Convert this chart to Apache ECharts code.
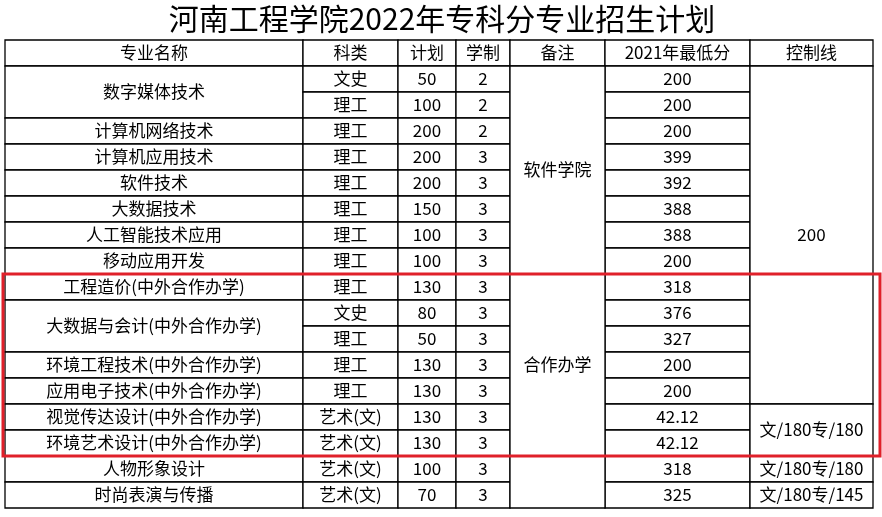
<!DOCTYPE html>
<html><head><meta charset="utf-8">
<script src="https://cdn.jsdelivr.net/npm/echarts@6/dist/echarts.min.js"></script>
<style>html,body{margin:0;padding:0;background:#fff}#c{width:882px;height:517px}</style>
</head><body><div id="c"></div>
<script>
const title = '河南工程学院2022年专科分专业招生计划';
const headers = ['专业名称','科类','计划','学制','备注','2021年最低分','控制线'];
const majors = ['数字媒体技术','数字媒体技术','计算机网络技术','计算机应用技术','软件技术','大数据技术','人工智能技术应用','移动应用开发','工程造价(中外合作办学)','大数据与会计(中外合作办学)','大数据与会计(中外合作办学)','环境工程技术(中外合作办学)','应用电子技术(中外合作办学)','视觉传达设计(中外合作办学)','环境艺术设计(中外合作办学)','人物形象设计','时尚表演与传播'];
const kinds = ['文史','理工','理工','理工','理工','理工','理工','理工','理工','文史','理工','理工','理工','艺术(文)','艺术(文)','艺术(文)','艺术(文)'];
const plans = [50,100,200,200,200,150,100,100,130,80,50,130,130,130,130,100,70];
const years = [2,2,2,3,3,3,3,3,3,3,3,3,3,3,3,3,3];
const minScores = ['200','200','200','399','392','388','388','200','318','376','327','200','200','42.12','42.12','318','325'];
const notes = [['软件学院',0,8],['合作办学',8,7],['',15,2]];
const controls = [['200',0,13],['文/180专/180',13,2],['文/180专/180',15,1],['文/180专/145',16,1]];

const colX = [5,303,398,456,510,605,750,873];
const top0 = 40, hdrH = 26, rowH = 26;
const font = '"Noto Sans CJK SC", sans-serif';
const els = [];
function cell(x0,x1,y0,y1,txt,opts){
  els.push({type:'rect',shape:{x:x0,y:y0,width:x1-x0,height:y1-y0},style:{fill:'#fff',stroke:'#000',lineWidth:1.3},z:1});
  if(txt!=='') els.push({type:'text',x:(x0+x1)/2,y:(y0+y1)/2,style:Object.assign({text:txt,fill:'#000',font:'17px '+font,align:'center',verticalAlign:'middle'},opts||{}),z:2});
}
els.push({type:'text',x:442,y:19,style:{text:title,fill:'#000',font:'30px '+font,align:'center',verticalAlign:'middle'}});
headers.forEach((h,i)=>cell(colX[i],colX[i+1],top0,top0+hdrH,h));
const y0 = top0+hdrH;
const ry = r=>y0+r*rowH;
let r=0;
while(r<majors.length){let n=1;while(r+n<majors.length&&majors[r+n]===majors[r])n++;cell(colX[0],colX[1],ry(r),ry(r+n),majors[r]);r+=n;}
for(let i=0;i<majors.length;i++){
  cell(colX[1],colX[2],ry(i),ry(i+1),kinds[i]);
  cell(colX[2],colX[3],ry(i),ry(i+1),String(plans[i]));
  cell(colX[3],colX[4],ry(i),ry(i+1),String(years[i]));
  cell(colX[5],colX[6],ry(i),ry(i+1),minScores[i]);
}
notes.forEach(([t,s,n])=>cell(colX[4],colX[5],ry(s),ry(s+n),t));
controls.forEach(([t,s,n])=>cell(colX[6],colX[7],ry(s),ry(s+n),t));
els.push({type:'rect',shape:{x:3,y:ry(8),width:877,height:rowH*7},style:{fill:'none',stroke:'#e0202a',lineWidth:3},z:5});
const chart = echarts.init(document.getElementById('c'));
chart.setOption({backgroundColor:'#fff',animation:false,graphic:els});
</script></body></html>
